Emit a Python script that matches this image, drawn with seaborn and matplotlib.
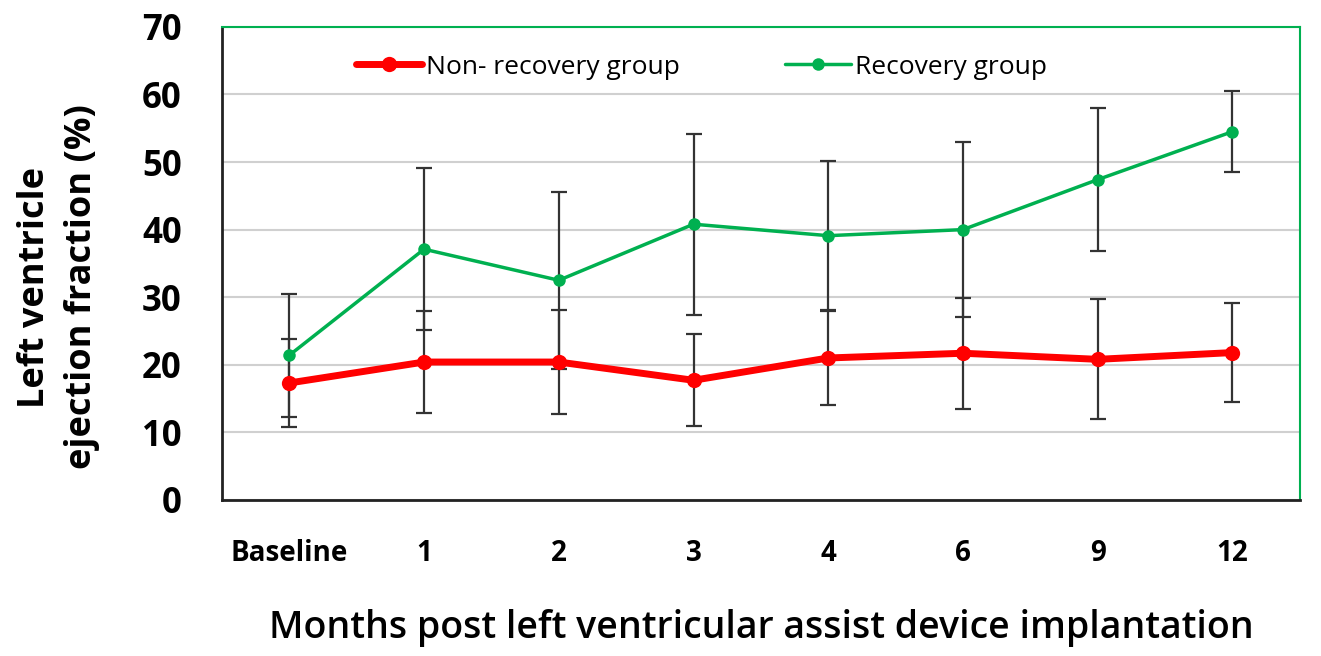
import numpy as np
import pandas as pd
import matplotlib
matplotlib.use("Agg")
import matplotlib.pyplot as plt
import seaborn as sns

# ── Data ──────────────────────────────────────────────
months        = ["Baseline", "1", "2", "3", "4", "6", "9", "12"]
nonrec_mean   = [17.3, 20.4, 20.4, 17.7, 21.0, 21.7, 20.8, 21.8]
nonrec_sd     = [6.5, 7.6, 7.7, 6.8, 7.0, 8.2, 8.9, 7.3]
rec_mean      = [21.4, 37.1, 32.5, 40.8, 39.1, 40.0, 47.4, 54.5]
rec_sd        = [9.1, 12.0, 13.1, 13.4, 11.0, 12.9, 10.6, 6.0]

RED   = "#FF0000"
GREEN = "#00B050"

df = pd.concat([
    pd.DataFrame({"month": months, "ef": nonrec_mean, "group": "Non- recovery group"}),
    pd.DataFrame({"month": months, "ef": rec_mean,    "group": "Recovery group"}),
])

sns.set_style("white", {"text.color": "black", "axes.labelcolor": "black",
                        "xtick.color": "black", "ytick.color": "black"})
plt.rcParams["font.family"] = ["Open Sans", "DejaVu Sans"]

fig = plt.figure(figsize=(13.21, 6.56), dpi=100)
ax = fig.add_axes([0.168, 0.238, 0.816, 0.721])

# error bars first so the lines sit on top
xpos = np.arange(len(months))
ax.errorbar(xpos, nonrec_mean, yerr=nonrec_sd, fmt="none", ecolor="#333333",
            elinewidth=1.6, capsize=6, capthick=1.6, zorder=2)
ax.errorbar(xpos, rec_mean, yerr=rec_sd, fmt="none", ecolor="#333333",
            elinewidth=1.6, capsize=6, capthick=1.6, zorder=2)

sns.lineplot(data=df[df.group == "Non- recovery group"], x="month", y="ef",
             color=RED, lw=5, marker="o", markersize=11, markeredgewidth=0,
             label="Non- recovery group", ax=ax, zorder=4, sort=False)
sns.lineplot(data=df[df.group == "Recovery group"], x="month", y="ef",
             color=GREEN, lw=2.5, marker="o", markersize=9, markeredgewidth=0,
             label="Recovery group", ax=ax, zorder=3, sort=False)

ax.set_xlim(-0.5, len(months) - 0.5)
ax.set_ylim(0, 70)
ax.set_yticks(range(0, 71, 10))
ax.yaxis.grid(True, color="#d0d0d0", lw=1.5)
ax.set_axisbelow(True)

for s in ["left", "bottom"]:
    ax.spines[s].set_color("#222222"); ax.spines[s].set_linewidth(2)
for s in ["top", "right"]:
    ax.spines[s].set_color(GREEN); ax.spines[s].set_linewidth(1.5)

ax.tick_params(axis="y", length=0, pad=29, labelsize=25, labelcolor="black")
ax.tick_params(axis="x", length=0, pad=28, labelsize=20, labelcolor="black")
for t in ax.get_yticklabels() + ax.get_xticklabels():
    t.set_fontweight("bold")

ax.set_ylabel("Left ventricle\nejection fraction (%)", fontsize=26,
              fontweight="bold", linespacing=1.4, color="black")
ax.yaxis.set_label_coords(-0.113, 0.45)
ax.set_xlabel("Months post left ventricular assist device implantation",
              fontsize=27, fontweight="semibold", labelpad=30, color="black")

leg = ax.legend(loc="center", bbox_to_anchor=(0.445, 0.915), ncol=2, frameon=False,
                fontsize=19, handlelength=2.5, columnspacing=4.0, handletextpad=0.15)
for t in leg.get_texts():
    t.set_color("black")

plt.savefig("out.png", dpi=100)
